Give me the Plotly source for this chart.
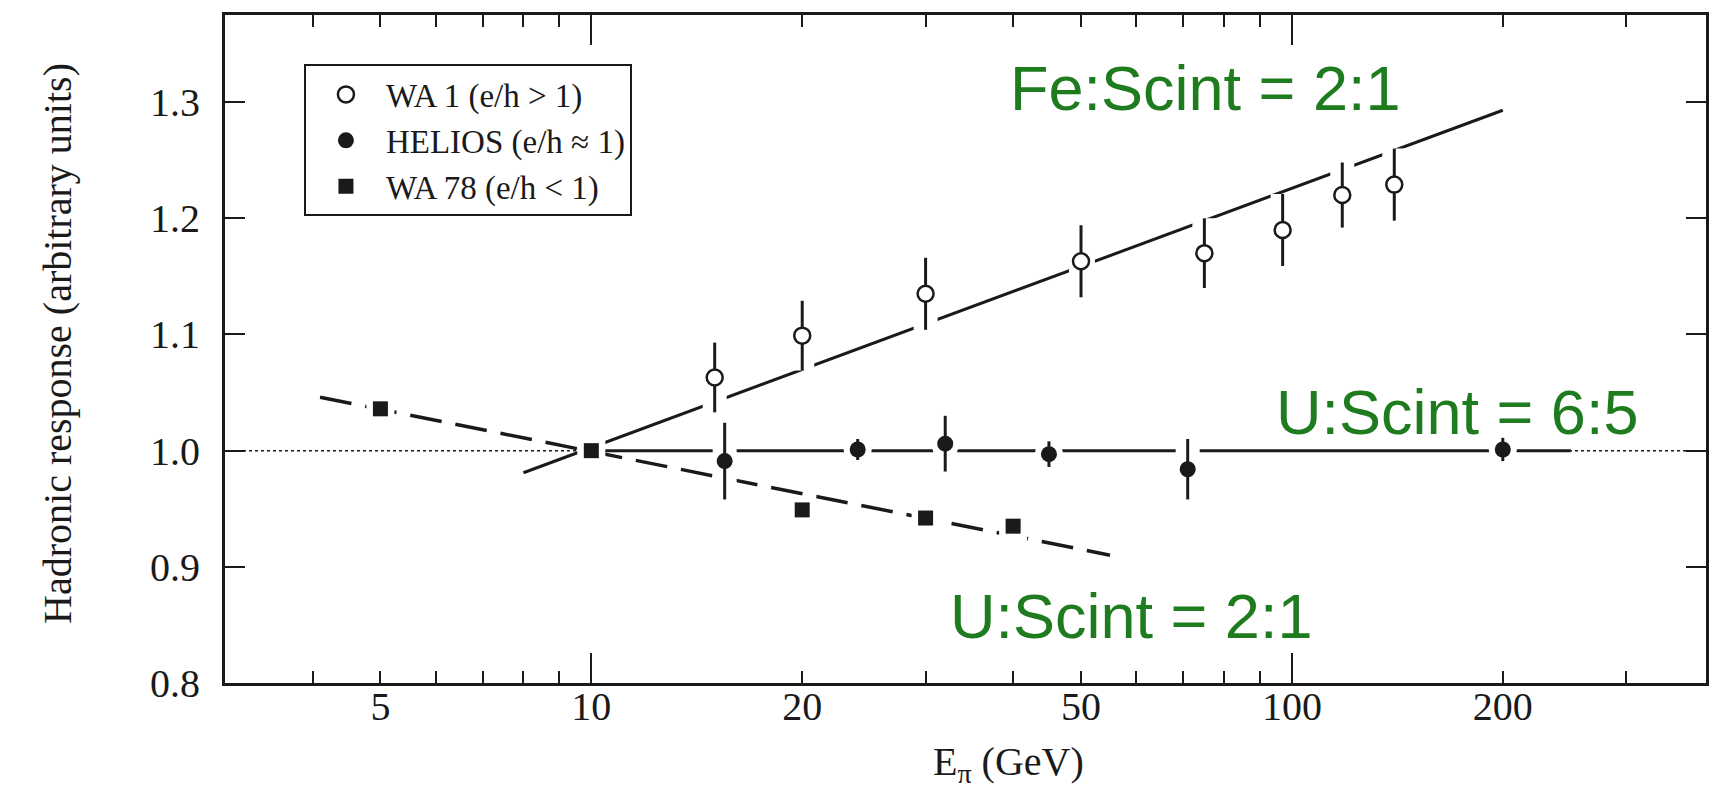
import math
import plotly.graph_objects as go

# ---------------- data ----------------
# WA 1 (e/h > 1)  -- open circles
wa1_energy = [15, 20, 30, 50, 75, 97, 118, 140]
wa1_resp = [1.063, 1.099, 1.135, 1.163, 1.170, 1.190, 1.220, 1.229]
wa1_err = [0.030, 0.030, 0.031, 0.031, 0.030, 0.031, 0.028, 0.031]

# HELIOS (e/h ~ 1)  -- filled circles
helios_energy = [15.5, 24, 32, 45, 71, 200]
helios_resp = [0.991, 1.001, 1.006, 0.997, 0.984, 1.001]
helios_err = [0.033, 0.009, 0.024, 0.011, 0.026, 0.010]

# WA 78 (e/h < 1)  -- filled squares
wa78_energy = [5, 10, 20, 30, 40]
wa78_resp = [1.036, 1.000, 0.949, 0.942, 0.935]

# trend lines
fe_line_energy = [8, 200]
fe_line_resp = [0.981, 1.293]
u65_line_energy = [10, 250]
u65_line_resp = [1.0, 1.0]
u21_line_energy = [4.1, 55]
u21_line_resp = [1.046, 0.910]

# axes
x_label_vals = [5, 10, 20, 50, 100, 200]
x_label_text = ["5", "10", "20", "50", "100", "200"]
x_minor_vals = [4, 6, 7, 8, 9, 30, 40, 60, 70, 80, 90, 300]
x_long_ticks = [10, 100]
y_tick_vals = [0.8, 0.9, 1.0, 1.1, 1.2, 1.3]
x_range = [3.0, 390.0]
y_range = [0.8, 1.375]

legend_names = ["WA 1 (e/h > 1)", "HELIOS (e/h \u2248 1)", "WA 78 (e/h < 1)"]
labels_green = ["Fe:Scint = 2:1", "U:Scint = 6:5", "U:Scint = 2:1"]

INK = "#1a1a1a"
GREEN = "#1e7b1e"
SERIF = "Liberation Serif"
SANS = "Liberation Sans"

fig = go.Figure()

# trend lines (lower subplot layer)
fig.add_trace(go.Scatter(x=fe_line_energy, y=fe_line_resp, mode="lines",
                         line=dict(color=INK, width=3), showlegend=False, hoverinfo="skip"))
fig.add_trace(go.Scatter(x=u65_line_energy, y=u65_line_resp, mode="lines",
                         line=dict(color=INK, width=3), showlegend=False, hoverinfo="skip"))
fig.add_trace(go.Scatter(x=u21_line_energy, y=u21_line_resp, mode="lines",
                         line=dict(color=INK, width=3.5, dash="32px,14px"),
                         showlegend=False, hoverinfo="skip"))

# white halos (break the lines around markers and error bars), upper overlay layer
for ex, ey, ee, sym in [(wa1_energy, wa1_resp, wa1_err, "circle"),
                        (helios_energy, helios_resp, helios_err, "circle"),
                        (wa78_energy, wa78_resp, None, "square")]:
    kw = {}
    if ee is not None:
        kw["error_y"] = dict(type="data", array=ee, visible=True, color="white",
                             thickness=24, width=0)
    fig.add_trace(go.Scatter(x=ex, y=ey, mode="markers", xaxis="x2",
                             marker=dict(symbol=sym, size=16, color="white",
                                         line=dict(color="white", width=12)),
                             showlegend=False, hoverinfo="skip", **kw))

# data series
fig.add_trace(go.Scatter(x=wa1_energy, y=wa1_resp, mode="markers", name=legend_names[0],
                         xaxis="x2",
                         marker=dict(symbol="circle", size=16, color="white",
                                     line=dict(color=INK, width=2.5)),
                         error_y=dict(type="data", array=wa1_err, visible=True,
                                      color=INK, thickness=3, width=0)))
fig.add_trace(go.Scatter(x=helios_energy, y=helios_resp, mode="markers", name=legend_names[1],
                         xaxis="x2",
                         marker=dict(symbol="circle", size=16, color=INK,
                                     line=dict(color=INK, width=0)),
                         error_y=dict(type="data", array=helios_err, visible=True,
                                      color=INK, thickness=3, width=0)))
fig.add_trace(go.Scatter(x=wa78_energy, y=wa78_resp, mode="markers", name=legend_names[2],
                         xaxis="x2",
                         marker=dict(symbol="square", size=15, color=INK,
                                     line=dict(color=INK, width=0))))

# dotted reference line at 1.0
fig.add_hline(y=1.0, line=dict(color=INK, width=1.5, dash="dot"), layer="below")

axis_font = dict(family=SERIF, size=40, color=INK)
fig.update_layout(
    width=1728, height=793,
    margin=dict(l=225, r=22, t=13, b=110),
    paper_bgcolor="white", plot_bgcolor="white",
    xaxis=dict(type="log", range=[math.log10(x_range[0]), math.log10(x_range[1])],
               showline=True, linewidth=3, linecolor=INK, mirror="ticks",
               ticks="inside", ticklen=12, tickwidth=2, tickcolor=INK,
               tickvals=x_label_vals, ticktext=x_label_text, tickfont=axis_font,
               minor=dict(tickvals=x_minor_vals, ticks="inside", ticklen=12,
                          tickwidth=2, tickcolor=INK, showgrid=False),
               ticklabelstandoff=-14, showgrid=False, zeroline=False),
    xaxis2=dict(type="log", range=[math.log10(x_range[0]), math.log10(x_range[1])],
                overlaying="x", anchor="y", side="bottom",
                showline=True, linewidth=3, linecolor=INK,
                mirror="ticks", ticks="inside", ticklen=30,
                tickwidth=2, tickcolor=INK, tickvals=x_long_ticks,
                showticklabels=False, showgrid=False, zeroline=False),
    yaxis=dict(range=y_range, showline=True, linewidth=3, linecolor=INK, mirror="ticks",
               ticks="inside", ticklen=20, tickwidth=2, tickcolor=INK,
               tickvals=y_tick_vals, tickformat=".1f", tickfont=axis_font,
               ticklabelstandoff=14, showgrid=False, zeroline=False),
    legend=dict(x=0.0533, y=0.926, xanchor="left", yanchor="top",
                bgcolor="white", bordercolor=INK, borderwidth=2,
                font=dict(family=SERIF, size=33, color=INK),
                itemwidth=70, tracegroupgap=0),
    showlegend=True,
)

# axis titles
fig.add_annotation(text="Hadronic response (arbitrary units)", textangle=-90,
                   xref="paper", yref="paper", x=-0.1128, y=0.509,
                   xanchor="center", yanchor="middle", showarrow=False,
                   font=dict(family=SERIF, size=40, color=INK))
fig.add_annotation(text="E<sub>\u03c0</sub> (GeV)",
                   xref="paper", yref="paper", x=0.529, y=-0.122,
                   xanchor="center", yanchor="middle", showarrow=False,
                   font=dict(family=SERIF, size=40, color=INK))

# green labels
for txt, px, py in zip(labels_green, [0.6617, 0.832, 0.612], [0.891, 0.405, 0.101]):
    fig.add_annotation(text=txt, xref="paper", yref="paper", x=px, y=py,
                       xanchor="center", yanchor="middle", showarrow=False,
                       font=dict(family=SANS, size=63, color=GREEN))

fig.write_html("out.html")
